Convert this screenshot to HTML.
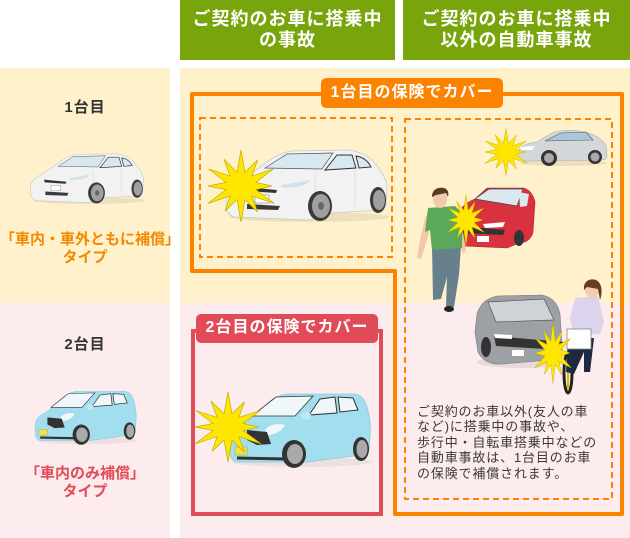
<!DOCTYPE html>
<html lang="ja">
<head>
<meta charset="utf-8">
<style>
  html,body{margin:0;padding:0;}
  body{width:630px;height:538px;overflow:hidden;position:relative;background:#fff;
    font-family:"Liberation Sans","Noto Sans CJK JP",sans-serif;}
  svg{position:absolute;left:0;top:0;}
  .t{position:absolute;white-space:nowrap;}
  .hd{color:#fff;font-weight:bold;font-size:18px;line-height:21px;letter-spacing:1px;text-align:center;top:9px;}
  .num{color:#333;font-weight:bold;font-size:15px;line-height:20px;letter-spacing:1px;text-align:center;left:0;width:170px;}
  .typ{font-weight:bold;font-size:15px;line-height:18px;text-align:center;left:0;width:170px;}
  .lab{color:#fff;font-weight:bold;font-size:16px;line-height:20px;letter-spacing:1px;text-align:center;}
  .body{color:#3a3a3a;font-size:13px;line-height:15.4px;letter-spacing:0.85px;left:417px;top:404px;}
</style>
</head>
<body>
<svg width="630" height="538" viewBox="0 0 630 538" xmlns="http://www.w3.org/2000/svg">
  <defs>
    <g id="prius">
      <ellipse cx="84" cy="68" rx="80" ry="5" fill="#000" opacity=".07"/>
      <path d="M1,46 C3,38 10,34 18,30 L38,16 C48,8 56,4 66,2 L122,1 C134,2 143,7 149,13 C156,21 160,28 162,36 L161,56 C160,60 157,61 155,61 L108,64 L84,71 L10,68 C4,67 1,62 1,56 Z" fill="#f2f2f2" stroke="#c8c8c8" stroke-width=".8"/>
      <path d="M40,19 L62,5 L108,4 L97,20 Z" fill="#d8e8f1" stroke="#555" stroke-width=".7"/>
      <path d="M100,21 L112,6 L127,6 L131,19 Z" fill="#d8e8f1" stroke="#333" stroke-width="1"/>
      <path d="M134,19 L131,7 C138,8 143,12 146,18 Z" fill="#d8e8f1" stroke="#333" stroke-width="1"/>
      <path d="M56,36 L85,31 C83,35 78,37 70,38 L57,39 Z" fill="#cfe2ee"/>
      <path d="M20,38 L52,41 L51,44 L21,42 Z" fill="#333"/>
      <path d="M22,55 L55,57 L53,61 L22,60 Z" fill="#3a3a3a"/>
      <rect x="30" y="46" width="14" height="8" fill="#fff" stroke="#888" stroke-width=".6"/>
      <path d="M90,24 L90,62 M130,22 L130,58" stroke="#d5d5d5" stroke-width=".7" fill="none"/>
      <ellipse cx="95" cy="57" rx="12" ry="15" fill="#3a3a3a"/>
      <ellipse cx="96" cy="57" rx="9" ry="12" fill="#a0a0a0"/>
      <ellipse cx="96" cy="57" rx="3" ry="4" fill="#666"/>
      <ellipse cx="153" cy="51" rx="8" ry="13" fill="#3a3a3a"/>
      <ellipse cx="154" cy="51" rx="6" ry="10" fill="#a0a0a0"/>
    </g>
    <g id="fit">
      <ellipse cx="75" cy="70" rx="70" ry="5" fill="#000" opacity=".06"/>
      <path d="M3,48 C4,40 10,34 20,30 L40,12 C46,6 52,3 60,2 L128,2 C134,3 138,8 140,15 C143,25 144,35 143,45 L142,58 C141,62 138,63 135,63 L80,70 L12,70 C6,70 3,66 3,60 Z" fill="#a2deee" stroke="#90cadb" stroke-width=".8"/>
      <path d="M25,24 L49,5 L86,4 L68,24 Z" fill="#eff7fa" stroke="#333" stroke-width=".8"/>
      <path d="M82,23 L93,7 L108,5 L110,21 Z" fill="#eff7fa" stroke="#333" stroke-width="1"/>
      <path d="M113,20 L111,5 L126,6 L131,18 Z" fill="#eff7fa" stroke="#333" stroke-width="1"/>
      <ellipse cx="79" cy="24" rx="5" ry="4" fill="#bfe8f3"/>
      <path d="M38,38 C42,32 52,31 58,33 C55,39 48,43 40,43 Z" fill="#eef8fb"/>
      <path d="M20,38 L40,40 L44,52 L30,53 L20,48 Z" fill="#333"/>
      <rect x="8" y="55" width="12" height="8" fill="#f2e33a" stroke="#999" stroke-width=".5"/>
      <path d="M10,66 L60,67" stroke="#333" stroke-width="3"/>
      <ellipse cx="67" cy="62" rx="12" ry="14" fill="#333"/>
      <ellipse cx="68" cy="62" rx="8" ry="10" fill="#aaa"/>
      <ellipse cx="134" cy="57" rx="8" ry="12" fill="#333"/>
      <ellipse cx="135" cy="57" rx="5.5" ry="9" fill="#aaa"/>
    </g>
    <polygon id="star" points="0,-36 3.6,-13.5 15,-26 9.9,-9.9 29.4,-17 13.5,-3.6 28,0 13.5,3.6 30.3,17.5 9.9,9.9 15,26 3.6,13.5 0,36 -3.6,13.5 -14.5,25.1 -9.9,9.9 -30.3,17.5 -13.5,3.6 -30,0 -13.5,-3.6 -29.4,-17 -9.9,-9.9 -15.5,-26.8 -3.6,-13.5" fill="#ffe600" stroke="#c4b000" stroke-width=".7"/>
  </defs>

  <!-- headers -->
  <rect x="180" y="0" width="215" height="60" fill="#78a50b"/>
  <rect x="403" y="0" width="227" height="60" fill="#78a50b"/>

  <!-- row backgrounds -->
  <rect x="0" y="68" width="170" height="235" fill="#fff1cc"/>
  <rect x="0" y="303" width="170" height="235" fill="#fcecee"/>
  <rect x="180" y="68" width="450" height="235" fill="#fff1cc"/>
  <rect x="180" y="303" width="450" height="235" fill="#fcecee"/>

  <!-- dashed boxes -->
  <rect x="200" y="118" width="192" height="139" fill="none" stroke="#fb8300" stroke-width="2" stroke-dasharray="6 4"/>
  <rect x="405" y="119" width="207" height="380" fill="none" stroke="#fb8300" stroke-width="2" stroke-dasharray="6 4"/>

  <!-- orange frame -->
  <path d="M192,94 H622 V514 H395 V271 H192 Z" fill="none" stroke="#fb8300" stroke-width="4" stroke-linejoin="round"/>
  <!-- red frame -->
  <rect x="193" y="331" width="188" height="183" fill="none" stroke="#e04b57" stroke-width="4"/>

  <!-- labels -->
  <rect x="321" y="78" width="182" height="30" rx="5" fill="#fb8300"/>
  <rect x="196" y="314" width="182" height="29" rx="5" fill="#e04b57"/>

  <!-- left column cars -->
  <use href="#prius" transform="translate(30,153) scale(0.7)"/>
  <use href="#fit" transform="translate(33,390) scale(0.72)"/>

  <!-- box1 car + star -->
  <use href="#prius" transform="translate(225,149)"/>
  <use href="#star" transform="translate(241,186) scale(1.1,1)"/>

  <!-- red frame car + star -->
  <use href="#fit" transform="translate(227,392)"/>
  <use href="#star" transform="translate(228,427) scale(1.1,0.97)"/>

  <!-- box2: silver sedan -->
  <g transform="translate(517,130)">
    <ellipse cx="46" cy="33" rx="44" ry="3" fill="#000" opacity=".07"/>
    <path d="M2,20 C4,15 12,13 20,12 L35,3 C42,0 55,0 62,1 L72,3 C80,6 86,10 89,16 L90,26 C90,29 87,30 85,30 L10,31 C4,31 1,28 2,24 Z" fill="#d4d7da" stroke="#a8abb0" stroke-width=".6"/>
    <path d="M28,11 L44,3 L69,2 L76,10 Z" fill="#a9c7d6" stroke="#555" stroke-width=".6"/>
    <path d="M3,17 L18,16 L15,20 L4,20 Z" fill="#fff"/>
    <circle cx="32" cy="28" r="8" fill="#333"/><circle cx="32" cy="28" r="5" fill="#aaa"/>
    <circle cx="78" cy="27" r="7" fill="#333"/><circle cx="78" cy="27" r="4.5" fill="#aaa"/>
  </g>
  <use href="#star" transform="translate(506,152) scale(0.7,0.65)"/>

  <!-- box2: red car -->
  <g transform="translate(453,186)">
    <path d="M4,32 C6,22 14,16 22,13 L34,2 L70,2 C76,3 80,8 82,16 L80,46 C78,54 72,57 66,57 L54,62 L10,60 C5,58 3,52 4,45 Z" fill="#d8323f" stroke="#b02030" stroke-width=".6"/>
    <path d="M22,13 L36,3 L70,3 L64,20 Z" fill="#dde7ef" stroke="#444" stroke-width=".7"/>
    <path d="M66,6 L76,8 L74,20 L67,21 Z" fill="#dde7ef"/>
    <path d="M8,40 L52,44 L50,49 L10,47 Z" fill="#333"/>
    <path d="M30,38 L52,36 L50,41 L32,42 Z" fill="#fff"/>
    <rect x="24" y="50" width="12" height="6" fill="#fff"/>
    <ellipse cx="66" cy="52" rx="5" ry="8" fill="#333"/>
  </g>
  <!-- man -->
  <g>
    <path d="M432,246 L461,246 L459,275 L454,307 L446,307 L447,277 L441,299 L433,300 Z" fill="#687f8e"/>
    <ellipse cx="449" cy="309" rx="5" ry="3" fill="#222"/>
    <path d="M426,214 L420,240 L417,258 L421,259 L427,240 L431,225 Z" fill="#f1c9a6"/>
    <path d="M460,215 L466,250 L463,254 L459,240 Z" fill="#f1c9a6"/>
    <path d="M428,208 L455,206 L463,214 L462,248 L432,250 L430,230 L425,232 Z" fill="#5aa85a"/>
    <ellipse cx="440" cy="199" rx="7" ry="9" fill="#f1c9a6"/>
    <path d="M432,197 C432,189 438,187 444,188 C448,189 449,193 448,197 L446,193 L436,195 Z" fill="#5a3a22"/>
  </g>
  <use href="#star" transform="translate(466,220) scale(0.6,0.7)"/>

  <!-- box2: gray car -->
  <g transform="translate(472,292)">
    <ellipse cx="50" cy="70" rx="45" ry="6" fill="#000" opacity=".08"/>
    <path d="M5,22 C8,12 15,6 25,4 L70,3 C80,5 86,12 88,22 L90,55 C89,62 84,66 78,68 L30,72 C18,73 10,68 6,60 L3,40 Z" fill="#9da0a5" stroke="#777" stroke-width=".6"/>
    <path d="M16,10 L72,7 L82,28 L24,30 Z" fill="#cfd2d6" stroke="#555" stroke-width=".7"/>
    <path d="M22,44 L92,50 L90,58 L24,54 Z" fill="#333"/>
    <path d="M22,42 L40,43 L40,47 L23,46 Z" fill="#fff"/>
    <rect x="40" y="58" width="12" height="6" fill="#fff"/>
    <ellipse cx="14" cy="55" rx="5" ry="10" fill="#333"/>
  </g>
  <!-- cyclist -->
  <g>
    <ellipse cx="568" cy="373" rx="4" ry="20" fill="none" stroke="#222" stroke-width="3"/>
    <path d="M568,345 L568,390" stroke="#c8c000" stroke-width="2"/>
    <path d="M568,340 L594,338 L590,372 L584,372 L584,352 L574,374 L566,372 Z" fill="#1e2840"/>
    <path d="M575,298 L598,296 L604,322 L600,334 L574,336 L570,318 Z" fill="#dcd3ec"/>
    <rect x="567" y="329" width="24" height="20" fill="#fff" stroke="#888" stroke-width=".8"/>
    <ellipse cx="592" cy="290" rx="7" ry="8" fill="#f4cdb0"/>
    <path d="M584,290 C583,281 590,278 596,280 C602,283 603,292 600,300 L598,289 L587,287 Z" fill="#6a3c22"/>
  </g>
  <use href="#star" transform="translate(553,353) scale(0.6,0.85)"/>
</svg>

<!-- header text -->
<div class="t hd" style="left:180px;width:215px;">ご契約のお車に搭乗中<br>の事故</div>
<div class="t hd" style="left:403px;width:227px;">ご契約のお車に搭乗中<br>以外の自動車事故</div>

<!-- left column -->
<div class="t num" style="top:98px;">1台目</div>
<div class="t typ" style="top:231px;color:#f28a00;">「車内・車外ともに補償」<br>タイプ</div>
<div class="t num" style="top:335px;">2台目</div>
<div class="t typ" style="top:465px;color:#e24b57;">「車内のみ補償」<br>タイプ</div>

<!-- labels -->
<div class="t lab" style="left:321px;width:182px;top:83px;">1台目の保険でカバー</div>
<div class="t lab" style="left:196px;width:182px;top:318px;">2台目の保険でカバー</div>

<!-- description -->
<div class="t body">ご契約のお車以外(友人の車<br>など)に搭乗中の事故や、<br>歩行中・自転車搭乗中などの<br>自動車事故は、1台目のお車<br>の保険で補償されます。</div>
</body>
</html>
